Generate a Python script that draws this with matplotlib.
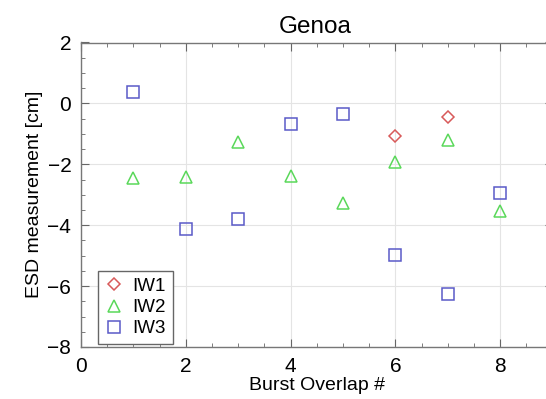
import matplotlib
matplotlib.use("Agg")
import matplotlib.pyplot as plt
from matplotlib.ticker import MultipleLocator

plt.rcParams['font.family'] = ['Liberation Sans', 'DejaVu Sans']

# burst overlap index and ESD per swath
iw1_x = [6, 7]
iw1_y = [-1.08, -0.46]
iw2_x = [1, 2, 3, 4, 5, 6, 7, 8]
iw2_y = [-2.46, -2.43, -1.28, -2.39, -3.28, -1.93, -1.21, -3.54]
iw3_x = [1, 2, 3, 4, 5, 6, 7, 8]
iw3_y = [0.38, -4.13, -3.80, -0.69, -0.36, -4.98, -6.26, -2.95]

fig = plt.figure(figsize=(5.46, 3.99), dpi=100)
ax = fig.add_axes([81/546, 1 - 347/399, 9*52.4/546, (347 - 42.5)/399])

mk = dict(linestyle='none', markerfacecolor='none', markeredgewidth=1.1)
ax.plot(iw1_x, iw1_y, marker='D', markersize=6.5, color='#d85a5a', label='IW1', **mk)
ax.plot(iw2_x, iw2_y, marker='^', markersize=9, color='#5ad85a', label='IW2', **mk)
ax.plot(iw3_x, iw3_y, marker='s', markersize=8, color='#5a5ac8', label='IW3', **mk)

ax.set_xlim(0, 9)
ax.set_ylim(-8, 2)
ax.xaxis.set_major_locator(MultipleLocator(2))
ax.xaxis.set_minor_locator(MultipleLocator(0.5))
ax.yaxis.set_major_locator(MultipleLocator(2))
ax.yaxis.set_minor_locator(MultipleLocator(0.5))
ax.grid(True, which='major', color='#e4e4e4', linewidth=0.8)
ax.set_axisbelow(True)
ax.tick_params(which='both', direction='in', top=True, right=True, colors='#666666',
               labelcolor='black', labelsize=15, pad=7)
ax.tick_params(which='major', length=6)
ax.tick_params(which='minor', length=3)
for s in ax.spines.values():
    s.set_color('#777777')
    s.set_linewidth(1.0)

ax.set_title('Genoa', fontsize=17.5, pad=7, x=(315 - 81) / (9 * 52.4))
ax.set_xlabel('Burst Overlap #', fontsize=14, labelpad=1)
ax.set_ylabel('ESD measurement [cm]', fontsize=14, labelpad=3)

leg = ax.legend(loc='lower left', bbox_to_anchor=(0.036, 0.01), fontsize=13.5,
                fancybox=False, edgecolor='#666666', framealpha=1,
                handlelength=1.0, handletextpad=0.5, borderpad=0.35, labelspacing=0.22,
                borderaxespad=0)
leg.get_frame().set_linewidth(1.0)

fig.savefig('out.png', dpi=100)
